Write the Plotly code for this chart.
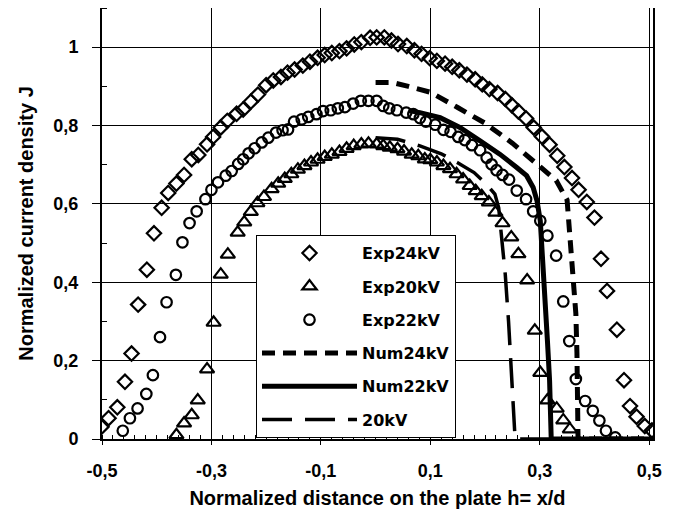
import plotly.graph_objects as go

# Exp24kV (diamonds)
exp24_x = [-0.501, -0.488, -0.472, -0.458, -0.446, -0.434, -0.418, -0.405, -0.391, -0.379,
           -0.364, -0.350, -0.336, -0.324, -0.308, -0.297, -0.283, -0.271, -0.254, -0.242,
           -0.228, -0.215, -0.200, -0.187, -0.173, -0.161, -0.148, -0.133, -0.120, -0.106,
           -0.093, -0.080, -0.066, -0.053, -0.039, -0.026, -0.010, 0.002, 0.016, 0.029,
           0.041, 0.057, 0.071, 0.084, 0.099, 0.112, 0.127, 0.140, 0.153, 0.167,
           0.182, 0.195, 0.208, 0.223, 0.237, 0.249, 0.261, 0.275, 0.289, 0.304,
           0.318, 0.332, 0.345, 0.359, 0.371, 0.386, 0.400, 0.412, 0.423, 0.441,
           0.454, 0.465, 0.477, 0.492, 0.505]
exp24_y = [0.031, 0.053, 0.081, 0.146, 0.218, 0.343, 0.432, 0.525, 0.590, 0.628,
           0.652, 0.674, 0.714, 0.725, 0.752, 0.771, 0.795, 0.812, 0.830, 0.841,
           0.861, 0.879, 0.903, 0.915, 0.924, 0.935, 0.943, 0.953, 0.963, 0.973,
           0.980, 0.985, 0.990, 0.997, 1.007, 1.013, 1.024, 1.025, 1.025, 1.017,
           1.008, 1.003, 0.992, 0.983, 0.972, 0.965, 0.958, 0.950, 0.941, 0.930,
           0.918, 0.905, 0.893, 0.883, 0.868, 0.852, 0.836, 0.818, 0.795, 0.772,
           0.751, 0.723, 0.694, 0.666, 0.636, 0.605, 0.565, 0.460, 0.378, 0.279,
           0.150, 0.084, 0.057, 0.033, 0.022]

# Exp20kV (triangles)
exp20_x = [-0.364, -0.350, -0.336, -0.325, -0.308, -0.296, -0.283, -0.270, -0.252, -0.240,
           -0.228, -0.216, -0.204, -0.190, -0.178, -0.166, -0.154, -0.142, -0.130, -0.118,
           -0.106, -0.093, -0.080, -0.066, -0.053, -0.040, -0.026, -0.013, 0.002, 0.014,
           0.026, 0.040, 0.052, 0.066, 0.078, 0.090, 0.100, 0.112, 0.124, 0.136,
           0.148, 0.160, 0.172, 0.183, 0.194, 0.207, 0.219, 0.232, 0.248, 0.261,
           0.277, 0.291, 0.301, 0.314, 0.331, 0.343, 0.355]
exp20_y = [0.010, 0.040, 0.061, 0.099, 0.178, 0.297, 0.420, 0.471, 0.527, 0.553,
           0.580, 0.602, 0.618, 0.638, 0.652, 0.664, 0.676, 0.688, 0.697, 0.706,
           0.713, 0.720, 0.726, 0.733, 0.741, 0.748, 0.752, 0.754, 0.752, 0.748,
           0.744, 0.740, 0.734, 0.726, 0.722, 0.714, 0.712, 0.706, 0.697, 0.689,
           0.676, 0.663, 0.646, 0.633, 0.620, 0.604, 0.578, 0.551, 0.515, 0.472,
           0.405, 0.277, 0.169, 0.099, 0.078, 0.048, 0.025]

# Exp22kV (circles)
exp22_x = [-0.462, -0.449, -0.435, -0.419, -0.407, -0.394, -0.382, -0.365, -0.353, -0.340,
           -0.327, -0.311, -0.300, -0.288, -0.274, -0.263, -0.251, -0.242, -0.232, -0.221,
           -0.208, -0.196, -0.182, -0.170, -0.160, -0.149, -0.135, -0.123, -0.108, -0.096,
           -0.082, -0.069, -0.056, -0.041, -0.027, -0.013, 0.002, 0.014, 0.025, 0.039,
           0.056, 0.069, 0.081, 0.092, 0.109, 0.124, 0.137, 0.151, 0.163, 0.176,
           0.191, 0.203, 0.212, 0.221, 0.232, 0.244, 0.258, 0.275, 0.288, 0.301,
           0.314, 0.330, 0.343, 0.354, 0.366, 0.383, 0.397, 0.409, 0.421, 0.438]
exp22_y = [0.021, 0.053, 0.078, 0.115, 0.163, 0.260, 0.349, 0.419, 0.502, 0.551,
           0.581, 0.612, 0.636, 0.655, 0.672, 0.684, 0.702, 0.714, 0.729, 0.742,
           0.757, 0.769, 0.782, 0.788, 0.790, 0.810, 0.816, 0.822, 0.829, 0.837,
           0.839, 0.844, 0.847, 0.856, 0.863, 0.863, 0.863, 0.850, 0.844, 0.839,
           0.833, 0.829, 0.819, 0.810, 0.802, 0.789, 0.784, 0.771, 0.763, 0.750,
           0.737, 0.718, 0.701, 0.686, 0.674, 0.662, 0.634, 0.612, 0.581, 0.557,
           0.519, 0.468, 0.351, 0.250, 0.153, 0.097, 0.072, 0.047, 0.021, 0.004]

# Numerical curves
num24_x = [0.000, 0.030, 0.060, 0.100, 0.150, 0.200, 0.250, 0.300, 0.330, 0.350,
           0.355, 0.362, 0.366, 0.368, 0.369, 0.370, 0.507]
num24_y = [0.910, 0.910, 0.900, 0.885, 0.846, 0.806, 0.755, 0.698, 0.660, 0.610,
           0.520, 0.420, 0.320, 0.220, 0.100, 0.000, 0.000]

num22_x = [0.060, 0.081, 0.118, 0.154, 0.191, 0.227, 0.258, 0.276, 0.288, 0.295,
           0.301, 0.306, 0.310, 0.314, 0.318, 0.320, 0.321, 0.507]
num22_y = [0.838, 0.833, 0.820, 0.795, 0.761, 0.727, 0.693, 0.672, 0.642, 0.608,
           0.557, 0.455, 0.354, 0.252, 0.150, 0.065, 0.000, 0.000]

num20_x = [0.000, 0.040, 0.081, 0.120, 0.150, 0.180, 0.203, 0.218, 0.225, 0.231,
           0.237, 0.243, 0.249, 0.253, 0.255, 0.507]
num20_y = [0.769, 0.765, 0.748, 0.728, 0.705, 0.680, 0.650, 0.625, 0.590, 0.515,
           0.420, 0.300, 0.150, 0.050, 0.000, 0.000]

x_tickvals = [-0.5, -0.3, -0.1, 0.1, 0.3, 0.5]
x_ticktext = ["-0,5", "-0,3", "-0,1", "0,1", "0,3", "0,5"]
y_tickvals = [0, 0.2, 0.4, 0.6, 0.8, 1.0]
y_ticktext = ["0", "0,2", "0,4", "0,6", "0,8", "1"]

FONT = "Arial, Liberation Sans, sans-serif"
LEGFONT = "DejaVu Sans, Arial, sans-serif"

fig = go.Figure()

def mk(symbol, size):
    return dict(symbol=symbol, size=size, color="black",
                line=dict(color="black", width=2.2))

fig.add_trace(go.Scatter(x=exp24_x, y=exp24_y, mode="markers", name="Exp24kV",
                         legendgroup="a", marker=mk("diamond-open", 11)))
fig.add_trace(go.Scatter(x=exp20_x, y=exp20_y, mode="markers", name="Exp20kV",
                         legendgroup="b", marker=mk("triangle-up-open", 12.5)))
fig.add_trace(go.Scatter(x=exp22_x, y=exp22_y, mode="markers", name="Exp22kV",
                         legendgroup="c", marker=mk("circle-open", 10.5)))
fig.add_trace(go.Scatter(x=num24_x, y=num24_y, mode="lines", name="Num24kV",
                         legendgroup="d",
                         line=dict(color="black", width=5, dash="13px,8px")))
fig.add_trace(go.Scatter(x=num22_x, y=num22_y, mode="lines", name="Num22kV",
                         legendgroup="e", line=dict(color="black", width=5)))
fig.add_trace(go.Scatter(x=num20_x, y=num20_y, mode="lines", name="20kV",
                         legendgroup="f",
                         line=dict(color="black", width=3.5, dash="30px,13px")))

# the page body adds an 8px offset; the figure is sized to fit the 684x512 window
fig.update_layout(
    width=676, height=504,
    margin=dict(l=94, r=31, t=0, b=73, autoexpand=False),
    paper_bgcolor="white", plot_bgcolor="white",
    font=dict(family=FONT, color="black"),
    legend=dict(x=0.2795, y=0.473, xanchor="left", yanchor="top",
                bgcolor="white", bordercolor="black", borderwidth=1,
                font=dict(size=16, family=LEGFONT, weight="bold"),
                tracegroupgap=9.5, itemwidth=95),
)

fig.update_xaxes(
    range=[-0.5, 0.507], tickvals=x_tickvals, ticktext=x_ticktext,
    showgrid=True, gridcolor="#000000", gridwidth=1, griddash="solid", zeroline=False,
    showline=True, linecolor="black", linewidth=2, mirror=True,
    ticks="outside", ticklen=4, tickcolor="black", ticklabelstandoff=10,
    tickfont=dict(size=18, family=FONT, weight="bold"),
    minor=dict(dtick=0.02, tick0=-0.5, ticks="inside", ticklen=4,
               tickcolor="black", showgrid=False),
    title=dict(text="Normalized distance on the plate h= x/d",
               font=dict(size=20, family=FONT, weight="bold"), standoff=11),
)
fig.update_yaxes(
    range=[0, 1.1], tickvals=y_tickvals, ticktext=y_ticktext,
    showgrid=True, gridcolor="#000000", gridwidth=1, griddash="solid", zeroline=False,
    showline=True, linecolor="black", linewidth=2, mirror=True,
    ticks="outside", ticklen=8, tickcolor="black", ticklabelstandoff=10,
    tickfont=dict(size=18, family=FONT, weight="bold"),
    minor=dict(dtick=0.1, tick0=0, ticks="inside", ticklen=5,
               tickcolor="black", showgrid=False),
    title=dict(text="Normalized current density J",
               font=dict(size=20, family=FONT, weight="bold"), standoff=14),
)

fig.write_html("out.html")
